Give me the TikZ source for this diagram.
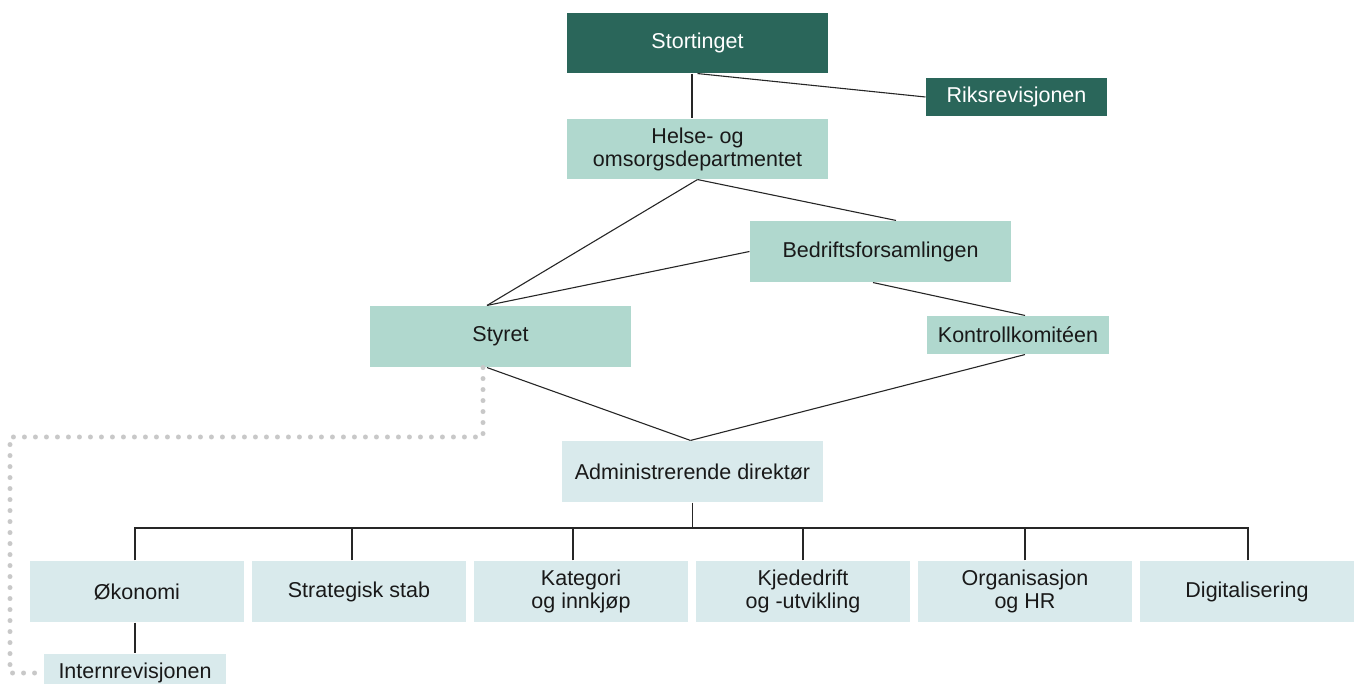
\documentclass[tikz,border=0pt]{standalone}
\usepackage{fontspec}
\setmainfont{Liberation Sans}
\definecolor{darkgreen}{RGB}{42,102,90}
\definecolor{midgreen}{RGB}{176,216,206}
\definecolor{paleblue}{RGB}{217,234,236}
\definecolor{dotgray}{RGB}{200,200,200}
\begin{document}
\begin{tikzpicture}[x=1pt, y=-1pt, line width=1.1pt, color=black!85,
  box/.style={rectangle,inner sep=0pt,align=center,text=black!90,font=\fontsize{21.5}{23}\selectfont},
  top node/.style={box,fill=darkgreen,text=white},
  mid node/.style={box,fill=midgreen},
  unit node/.style={box,fill=paleblue,minimum width=214pt,minimum height=61pt},
  dots/.style={dotgray,line width=5pt,line cap=round,dash pattern=on 0pt off 11pt}]
\useasboundingbox (0,0) rectangle (1355,684);
\node [top node, minimum width=261pt, minimum height=60pt] (stort) at (697.5,43) {Stortinget};
\node [top node, minimum width=181pt, minimum height=38pt] (riks) at (1016.5,97) {Riksrevisjonen};
\node [mid node, minimum width=261pt, minimum height=60pt] (hod) at (697.5,149) {Helse- og\\omsorgsdepartmentet};
\node [mid node, minimum width=261pt, minimum height=61pt] (bedr) at (880.5,251.5) {Bedriftsforsamlingen};
\node [mid node, minimum width=261pt, minimum height=61pt] (styret) at (500.5,336.5) {Styret};
\node [mid node, minimum width=182pt, minimum height=38pt] (kontr) at (1018,335) {Kontrollkomitéen};
\node [unit node, minimum width=261pt] (adm) at (692.5,471.5) {Administrerende direktør};
\node [unit node] (oko) at (137,591.5) {Økonomi};
\node [unit node] (strat) at (359,591.5) {Strategisk stab};
\node [unit node] (kat) at (581,591.5) {Kategori\\og innkjøp};
\node [unit node] (kjede) at (803,591.5) {Kjededrift\\og -utvikling};
\node [unit node] (org) at (1025,591.5) {Organisasjon\\og HR};
\node [unit node] (dig) at (1247,591.5) {Digitalisering};
\node [unit node, minimum width=182pt, minimum height=38pt] (intern) at (135,673) {Internrevisjonen};
\coordinate (bus) at (692.5,528);
\coordinate (dl) at (10,437);

% ownership and control
\draw ([xshift=-5.5pt]stort.south) -- ([xshift=-5.5pt]hod.north);
\draw (stort.south) -- (riks.west);
\draw (hod.south) -- ([xshift=-13.5pt]styret.north);
\draw (hod.south) -- ([xshift=15.5pt]bedr.north);
\draw (bedr.west) -- ([xshift=-13.5pt]styret.north);
\draw ([xshift=-7.5pt]bedr.south) -- ([xshift=7pt]kontr.north);
\draw ([xshift=-13.5pt]styret.south) -- ([xshift=-2pt]adm.north);
\draw ([xshift=7pt]kontr.south) -- ([xshift=-2pt]adm.north);

% line organisation
\draw (adm.south) -- (bus);
\draw ([xshift=-2pt]oko.north) |- (bus);
\draw ([xshift=-7pt]strat.north) |- (bus);
\draw ([xshift=-8pt]kat.north) |- (bus);
\draw (kjede.north) |- (bus);
\draw (org.north) |- (bus);
\draw ([xshift=1pt]dig.north) |- (bus);
\draw ([xshift=-2pt]oko.south) -- (intern.north);

% internal audit reports to the board
\draw [dots] ([xshift=-17.5pt]styret.south) |- (dl) |- (intern.west);
\end{tikzpicture}
\end{document}
